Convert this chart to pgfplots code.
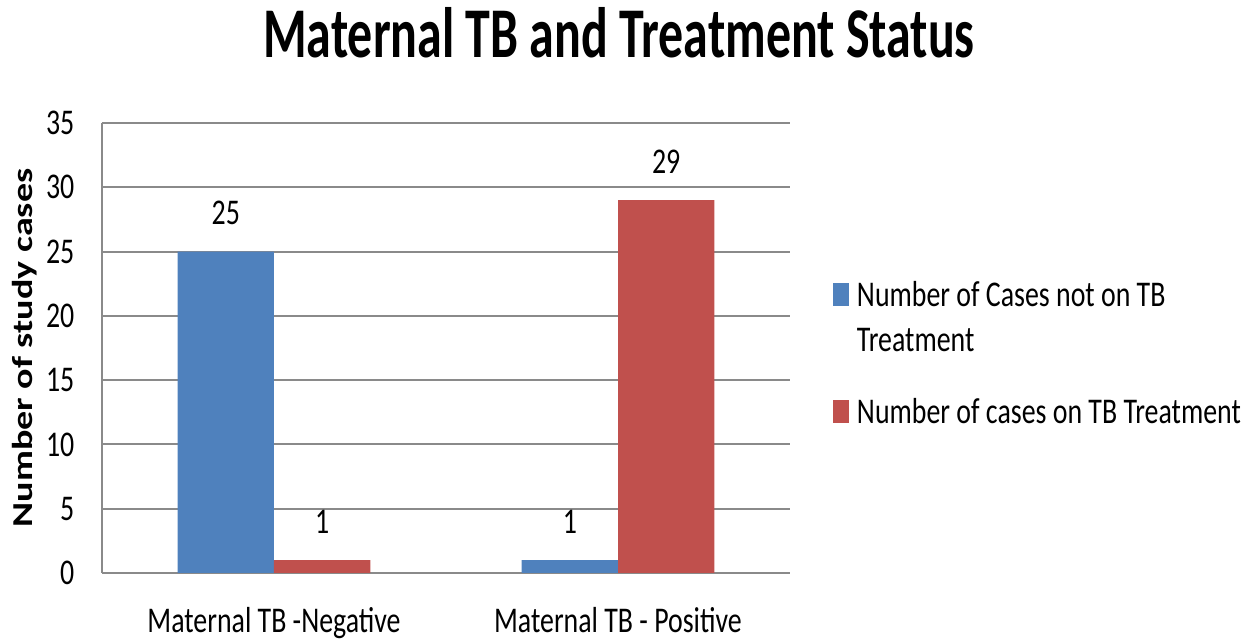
\documentclass[border=0pt]{standalone}
\usepackage{fontspec}
\setmainfont{Carlito}[FakeStretch=0.77]
\newfontfamily\titlefont{Carlito}[FakeStretch=0.70]
\newfontfamily\ylabfont{Carlito}[FakeStretch=1.32]
\usepackage{pgfplots}
\pgfplotsset{compat=1.18}
\definecolor{barblue}{HTML}{4F81BD}
\definecolor{barred}{HTML}{C0504D}
\definecolor{gridgray}{HTML}{8A8A8A}

\begin{document}
\begin{tikzpicture}
\path[use as bounding box] (-1.02,-0.66) rectangle (11.47,5.73);
\begin{axis}[
    at={(0,0)}, anchor=south west,
    scale only axis,
    width=6.88cm, height=4.5cm,
    xmin=-0.5, xmax=1.5,
    ymin=0, ymax=35,
    ybar, bar width=0.28,
    xtick={0,1},
    xticklabels={Maternal TB -Negative, Maternal TB - Positive},
    ytick={0,5,...,35},
    axis x line*=bottom, axis y line*=left,
    axis line style={gridgray, line width=0.6pt},
    ymajorgrids, grid style={gridgray, line width=0.6pt},
    major tick length=0pt,
    tick label style={font=\fontsize{10.3pt}{12pt}\selectfont, inner sep=0pt},
    /pgf/number format/assume math mode=true,
    xticklabel style={yshift=-0.34cm},
    yticklabel style={xshift=-0.27cm},
    ylabel={\ylabfont\bfseries Number of study cases},
    ylabel style={at={(axis description cs:-0.112,0.5)}, anchor=center,
        font=\fontsize{8.2pt}{10pt}\selectfont},
    nodes near coords,
    every node near coord/.append style={font=\fontsize{10.3pt}{12pt}\selectfont,
        inner sep=0pt, yshift=0.26cm, black},
    legend style={at={(1.0625,0.644)}, anchor=north west, draw=none, fill=none,
        inner sep=0pt, outer sep=0pt,
        nodes={inner sep=0pt, text height=0.23cm, text depth=0.07cm},
        font=\fontsize{10.3pt}{12.8pt}\selectfont, cells={anchor=base west},
        column sep=0.08cm, row sep=0.15cm},
    legend image code/.code={\fill[#1] (0cm,0cm) rectangle (0.16cm,0.23cm);},
]
\addplot[fill=barblue, draw=none, bar shift=-0.14, forget plot] coordinates {(0,25) (1,1)};
\addplot[fill=barred, draw=none, bar shift=0.14, forget plot] coordinates {(0,1) (1,29)};
\addlegendimage{fill=barblue, draw=none}
\addlegendentry{Number of Cases not on TB}
\addlegendimage{empty legend}
\addlegendentry[text depth=0.34cm]{Treatment}
\addlegendimage{fill=barred, draw=none}
\addlegendentry{Number of cases on TB Treatment}
\end{axis}
\node[font=\fontsize{20.3pt}{24pt}\selectfont\titlefont\bfseries, anchor=base, inner sep=0pt]
    at (5.17,5.15) {Maternal TB and Treatment Status};
\end{tikzpicture}
\end{document}
